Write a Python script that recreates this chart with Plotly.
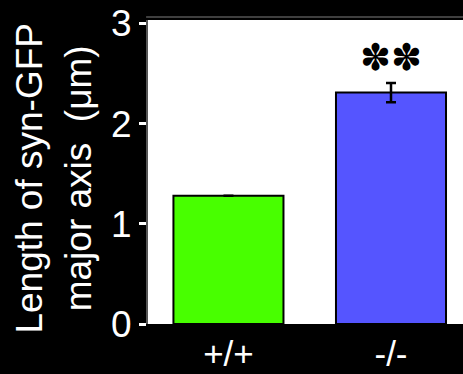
import plotly.graph_objects as go

categories = ["+/+", "-/-"]
values = [1.28, 2.31]
errors = [0.0, 0.095]
bar_colors = ["#48FF00", "#5555FF"]
y_ticks = [0, 1, 2, 3]
significance = "✽✽"

FONT = "Liberation Sans, Arial, sans-serif"

fig = go.Figure()
fig.add_trace(go.Bar(
    x=[0, 1], y=values, width=0.677,
    marker=dict(color=bar_colors, line=dict(color="black", width=2)),
    error_y=dict(type="data", array=errors, visible=True, color="black", thickness=2.5, width=5),
    showlegend=False,
))

fig.add_annotation(x=1, y=2.66, xref="x", yref="y", text=significance, showarrow=False,
                   font=dict(size=37, color="black", family="DejaVu Sans"))

fig.add_annotation(x=-0.3, y=0.48, xref="paper", yref="paper", xanchor="center", yanchor="middle",
                   text="Length of syn-GFP<br>major axis  (μm)", textangle=-90, showarrow=False,
                   font=dict(size=37, color="white", family=FONT))

fig.add_shape(type="line", xref="paper", yref="paper", x0=-0.006, x1=1, y0=1.0099, y1=1.0099,
              line=dict(color="#555555", width=1.5))

fig.update_layout(
    width=463, height=374,
    margin=dict(l=148, r=0, t=20, b=50, autoexpand=False),
    paper_bgcolor="black", plot_bgcolor="white",
    font=dict(family=FONT, color="white"),
    xaxis=dict(range=[-0.495, 1.443], tickvals=[0, 1], ticktext=categories, automargin=False,
               tickfont=dict(size=35, color="white"), showgrid=False, zeroline=False,
               showline=False, ticks="", ticklabelstandoff=6),
    yaxis=dict(range=[0, 3.035], tickvals=y_ticks, tickfont=dict(size=37, color="white"),
               automargin=False,
               showgrid=False, zeroline=False, showline=True, linecolor="#555555", linewidth=2,
               ticks="outside", ticklen=7, tickwidth=2.5, tickcolor="white"),
)

fig.write_html("out.html", config={"displayModeBar": False},
               post_script="document.body.style.margin='0';document.body.style.overflow='hidden';")
